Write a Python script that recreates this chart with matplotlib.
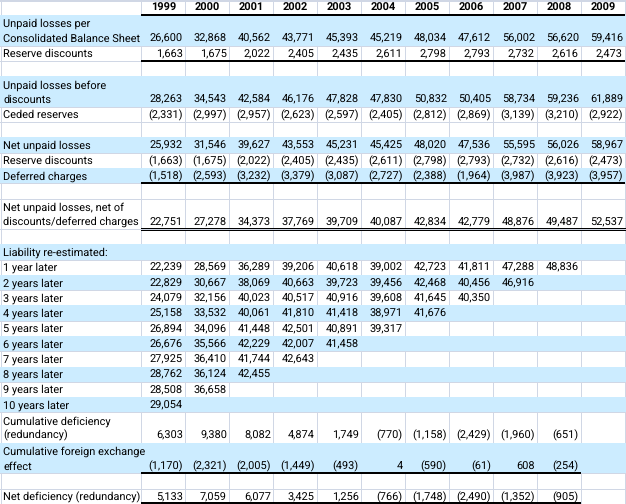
import matplotlib
matplotlib.use("Agg")
import matplotlib.pyplot as plt

plt.rcParams["text.hinting"] = "no_hinting"
plt.rcParams["text.hinting_factor"] = 1

# ---------------- data ----------------
years = ["1999", "2000", "2001", "2002", "2003", "2004", "2005", "2006", "2007", "2008", "2009"]

row_labels = [
    "Unpaid losses per\nConsolidated Balance Sheet",
    "Reserve discounts",
    "",
    "Unpaid losses before\ndiscounts",
    "Ceded reserves",
    "",
    "Net unpaid losses",
    "Reserve discounts",
    "Deferred charges",
    "",
    "Net unpaid losses, net of\ndiscounts/deferred charges",
    "",
    "Liability re-estimated:",
    "1 year later",
    "2 years later",
    "3 years later",
    "4 years later",
    "5 years later",
    "6 years later",
    "7 years later",
    "8 years later",
    "9 years later",
    "10 years later",
    "Cumulative deficiency\n(redundancy)",
    "Cumulative foreign exchange\neffect",
    "",
    "Net deficiency (redundancy)",
]

unpaid_cbs = [26600, 32868, 40562, 43771, 45393, 45219, 48034, 47612, 56002, 56620, 59416]
reserve_disc = [1663, 1675, 2022, 2405, 2435, 2611, 2798, 2793, 2732, 2616, 2473]
unpaid_before = [28263, 34543, 42584, 46176, 47828, 47830, 50832, 50405, 58734, 59236, 61889]
ceded = [-2331, -2997, -2957, -2623, -2597, -2405, -2812, -2869, -3139, -3210, -2922]
net_unpaid = [25932, 31546, 39627, 43553, 45231, 45425, 48020, 47536, 55595, 56026, 58967]
reserve_disc_neg = [-1663, -1675, -2022, -2405, -2435, -2611, -2798, -2793, -2732, -2616, -2473]
deferred = [-1518, -2593, -3232, -3379, -3087, -2727, -2388, -1964, -3987, -3923, -3957]
net_unpaid_net = [22751, 27278, 34373, 37769, 39709, 40087, 42834, 42779, 48876, 49487, 52537]
yr1 = [22239, 28569, 36289, 39206, 40618, 39002, 42723, 41811, 47288, 48836]
yr2 = [22829, 30667, 38069, 40663, 39723, 39456, 42468, 40456, 46916]
yr3 = [24079, 32156, 40023, 40517, 40916, 39608, 41645, 40350]
yr4 = [25158, 33532, 40061, 41810, 41418, 38971, 41676]
yr5 = [26894, 34096, 41448, 42501, 40891, 39317]
yr6 = [26676, 35566, 42229, 42007, 41458]
yr7 = [27925, 36410, 41744, 42643]
yr8 = [28762, 36124, 42455]
yr9 = [28508, 36658]
yr10 = [29054]
cum_def = [6303, 9380, 8082, 4874, 1749, -770, -1158, -2429, -1960, -651]
cum_fx = [-1170, -2321, -2005, -1449, -493, 4, -590, -61, 608, -254]
net_def = [5133, 7059, 6077, 3425, 1256, -766, -1748, -2490, -1352, -905]

row_values = [
    unpaid_cbs, reserve_disc, [], unpaid_before, ceded, [], net_unpaid,
    reserve_disc_neg, deferred, [], net_unpaid_net, [], [],
    yr1, yr2, yr3, yr4, yr5, yr6, yr7, yr8, yr9, yr10,
    cum_def, cum_fx, [], net_def,
]

# ---------------- styling / layout ----------------
W, H = 626, 504
fill_rows = {0, 3, 6, 8, 12, 14, 16, 18, 20, 22, 24}
FILL = "#CCECFF"
GRID = "#D0D7E5"
FONT = "Roboto"
FS = 7.7

label_w = 141.3
col_w = 44.0
unit = H / 33.0

fig = plt.figure(figsize=(W / 100, H / 100), dpi=100)
ax = fig.add_axes([0, 0, 1, 1])
ax.set_xlim(0, W)
ax.set_ylim(H, 0)
ax.axis("off")

col_edges = [0.5, label_w] + [label_w + col_w * (i + 1) for i in range(len(years))]

# row geometry
heights = [1] + [2 if "\n" in lbl else 1 for lbl in row_labels]
tops = [0.0]
for hgt in heights:
    tops.append(tops[-1] + hgt * unit)

# gridlines
for x in col_edges:
    ax.plot([x, x], [0, H], color=GRID, lw=0.72, zorder=1)
for y in tops:
    ax.plot([0, W], [y, y], color=GRID, lw=0.72, zorder=1)
ax.plot([0, W], [0.5, 0.5], color=GRID, lw=0.72, zorder=1)

# fills
for i in range(len(row_labels)):
    if i in fill_rows:
        y0, y1 = tops[i + 1], tops[i + 2]
        ax.add_patch(plt.Rectangle((0, y0), col_edges[-1] + 0.5, y1 - y0,
                                   facecolor=FILL, edgecolor="none", zorder=2))


def fmt(v):
    return f"({abs(v):,})" if v < 0 else f"{v:,}"


# header
hb = tops[1]
for j, yr in enumerate(years):
    cx = label_w + col_w * (j + 0.5)
    ax.text(cx, hb - 4.0, yr, ha="center", va="baseline", fontsize=FS,
            fontweight="bold", family=FONT, color="black", zorder=4)

# body
for i, (lbl, vals) in enumerate(zip(row_labels, row_values)):
    bottom = tops[i + 2]
    lines = lbl.split("\n") if lbl else []
    for k, line in enumerate(lines):
        yb = bottom - 4.0 - (len(lines) - 1 - k) * 14.6
        ax.text(3.0, yb, line, ha="left", va="baseline", fontsize=FS,
                family=FONT, color="black", zorder=4)
    for j, v in enumerate(vals):
        rx = label_w + col_w * (j + 1) - 2.4
        ax.text(rx, bottom - 4.0, fmt(v), ha="right", va="baseline", fontsize=FS,
                family=FONT, color="black", zorder=4)

# borders
x_full = col_edges[-1]
x_short = label_w + col_w * 10


def thick(y, x1):
    ax.plot([label_w, x1], [y, y], color="black", lw=1.44, zorder=5,
            solid_capstyle="butt")


thick(tops[1], x_full)          # under header
thick(tops[3], x_full)          # under reserve discounts
thick(tops[10], x_full)         # under deferred charges
yd = tops[12]
ax.plot([label_w, x_full], [yd - 1.5, yd - 1.5], color="black", lw=0.72, zorder=5)
ax.plot([label_w, x_full], [yd + 0.5, yd + 0.5], color="black", lw=0.72, zorder=5)
thick(tops[26], x_short)        # under cumulative FX
thick(tops[28] - 1.2, x_short)  # under net deficiency

fig.savefig("out.png", dpi=100)
